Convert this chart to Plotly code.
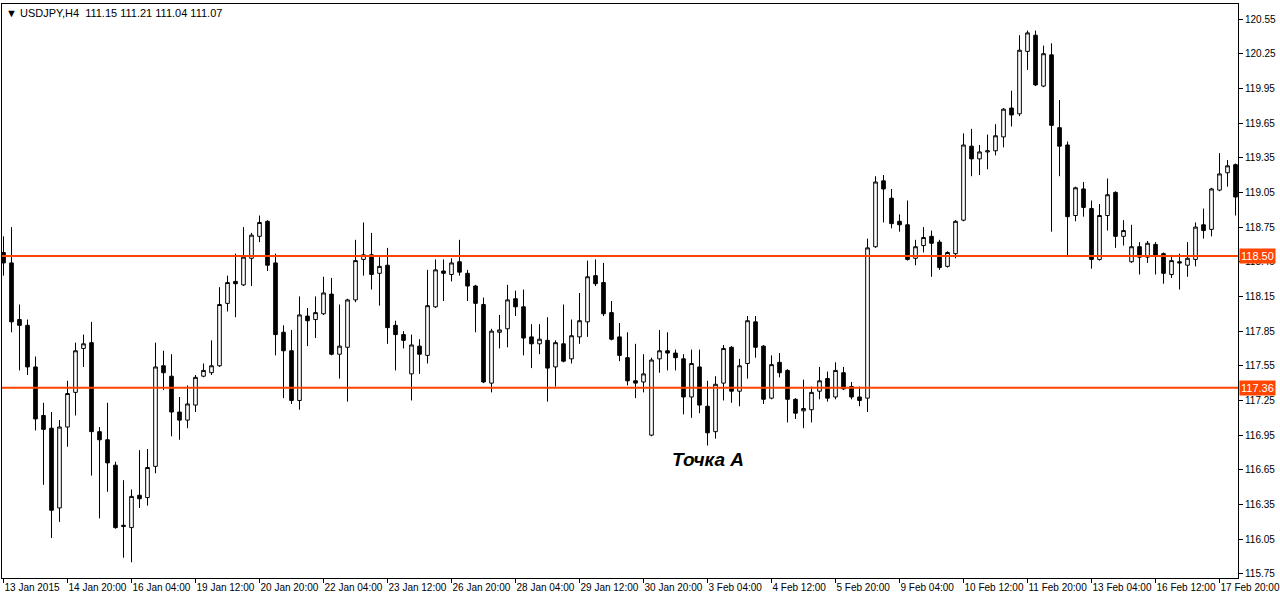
import plotly.graph_objects as go

# ---- data (USDJPY H4) ----
opens = [118.53, 118.44, 117.95, 117.90, 117.54, 117.12, 117.01, 116.32, 117.02, 117.32,
         117.70, 117.75, 116.98, 116.91, 116.69, 116.17, 116.15, 116.43, 116.41, 116.68,
         117.55, 117.46, 117.15, 117.08, 117.21, 117.46, 117.49, 117.55, 118.09, 118.28,
         118.25, 118.48, 118.67, 118.80, 118.44, 117.84, 117.68, 117.25, 117.98, 117.95,
         118.00, 118.17, 117.65, 117.71, 118.12, 118.47, 118.51, 118.35, 118.42, 117.90,
         117.82, 117.48, 117.72, 117.64, 118.06, 118.37, 118.34, 118.45, 118.35, 118.24,
         118.08, 117.40, 117.84, 117.87, 118.13, 118.06, 117.80, 117.74, 117.77, 117.54,
         117.74, 117.61, 117.80, 117.93, 118.33, 118.27, 118.01, 117.80, 117.62, 117.42,
         117.41, 116.95, 117.61, 117.68, 117.66, 117.61, 117.28, 117.54, 117.20, 116.98,
         117.40, 117.71, 117.33, 117.57, 117.93, 117.72, 117.27, 117.58, 117.51, 117.26,
         117.16, 117.17, 117.33, 117.44, 117.28, 117.49, 117.37, 117.28, 117.27, 118.58,
         119.15, 119.00, 118.80, 118.77, 118.48, 118.59, 118.67, 118.62, 118.41, 118.52,
         118.81, 119.45, 119.34, 119.40, 119.41, 119.53, 119.78, 119.73, 120.27, 120.41,
         119.97, 120.24, 119.61, 119.46, 118.85, 119.08, 118.91, 118.47, 118.85, 119.05,
         118.67, 118.45, 118.58, 118.49, 118.60, 118.52, 118.34, 118.45, 118.42, 118.47,
         118.77, 118.73, 119.07, 119.22, 119.29]
highs = [118.67, 118.75, 118.08, 117.95, 117.63, 117.23, 117.15, 117.08, 117.42, 117.75,
         117.82, 117.93, 117.02, 117.23, 116.72, 116.56, 116.48, 116.82, 116.83, 117.75,
         117.68, 117.65, 117.28, 117.38, 117.47, 117.57, 117.77, 118.23, 118.33, 118.52,
         118.75, 118.70, 118.85, 118.81, 118.52, 117.90, 117.86, 118.15, 118.05, 118.15,
         118.32, 118.31, 118.08, 118.13, 118.64, 118.79, 118.70, 118.49, 118.57, 117.94,
         117.85, 117.82, 117.78, 118.38, 118.47, 118.47, 118.48, 118.64, 118.38, 118.25,
         118.14, 117.87, 117.99, 118.25, 118.20, 118.21, 117.91, 117.91, 117.97, 117.77,
         118.08, 117.95, 118.18, 118.46, 118.47, 118.44, 118.11, 117.92, 117.84, 117.74,
         117.65, 117.62, 117.86, 117.84, 117.69, 117.65, 117.69, 117.69, 117.42, 117.46,
         117.73, 117.72, 117.61, 117.98, 117.98, 117.73, 117.64, 117.66, 117.52, 117.27,
         117.43, 117.37, 117.54, 117.50, 117.58, 117.54, 117.41, 117.37, 118.65, 119.19,
         119.20, 119.08, 118.86, 118.98, 118.64, 118.75, 118.72, 118.64, 118.54, 118.81,
         119.56, 119.60, 119.46, 119.55, 119.64, 119.78, 119.93, 120.41, 120.45, 120.45,
         120.32, 120.34, 119.85, 119.49, 119.10, 119.14, 118.98, 118.95, 119.17, 119.06,
         118.81, 118.77, 118.62, 118.63, 118.62, 118.53, 118.51, 118.52, 118.62, 118.79,
         118.91, 119.09, 119.39, 119.33, 119.30]
lows = [118.33, 117.84, 117.51, 117.47, 116.99, 116.52, 116.06, 116.20, 116.85, 117.12,
        117.54, 116.60, 116.23, 116.46, 116.14, 115.89, 115.85, 116.32, 116.34, 116.62,
        117.34, 116.94, 116.91, 117.01, 117.15, 117.45, 117.47, 117.54, 118.02, 117.97,
        118.24, 118.24, 118.62, 118.37, 117.64, 117.27, 117.22, 117.17, 117.72, 117.79,
        117.99, 117.64, 117.44, 117.24, 118.10, 118.33, 118.21, 118.07, 117.74, 117.51,
        117.70, 117.25, 117.48, 117.57, 118.05, 118.11, 118.28, 118.33, 118.11, 117.84,
        117.40, 117.32, 117.70, 117.71, 117.98, 117.64, 117.53, 117.65, 117.24, 117.37,
        117.58, 117.57, 117.74, 117.80, 118.24, 117.98, 117.77, 117.59, 117.38, 117.27,
        117.32, 116.94, 117.49, 117.51, 117.51, 117.13, 117.10, 117.14, 116.86, 116.92,
        117.25, 117.23, 117.20, 117.44, 117.62, 117.22, 117.26, 117.45, 117.06, 117.09,
        117.01, 117.06, 117.26, 117.24, 117.26, 117.34, 117.26, 117.20, 117.15, 118.57,
        118.79, 118.74, 118.71, 118.46, 118.42, 118.53, 118.32, 118.38, 118.40, 118.48,
        118.80, 119.19, 119.20, 119.25, 119.37, 119.44, 119.62, 119.71, 120.11, 119.97,
        119.96, 118.71, 119.19, 118.49, 118.80, 118.84, 118.39, 118.46, 118.72, 118.57,
        118.59, 118.44, 118.34, 118.44, 118.34, 118.26, 118.31, 118.21, 118.32, 118.41,
        118.65, 118.67, 119.06, 119.10, 118.85]
closes = [118.44, 117.93, 117.90, 117.54, 117.09, 117.00, 116.30, 117.02, 117.31, 117.68,
          117.74, 116.98, 116.91, 116.71, 116.15, 116.16, 116.42, 116.40, 116.67, 117.54,
          117.49, 117.15, 117.08, 117.22, 117.45, 117.51, 117.55, 118.08, 118.27, 118.26,
          118.49, 118.68, 118.79, 118.42, 117.82, 117.68, 117.25, 117.99, 117.94, 118.01,
          118.18, 117.65, 117.72, 118.12, 118.46, 118.51, 118.34, 118.41, 117.88, 117.82,
          117.77, 117.73, 117.65, 118.07, 118.38, 118.35, 118.44, 118.36, 118.24, 118.09,
          117.41, 117.85, 117.86, 118.12, 118.06, 117.79, 117.74, 117.78, 117.53, 117.75,
          117.59, 117.81, 117.94, 118.32, 118.26, 118.00, 117.78, 117.64, 117.42, 117.40,
          117.48, 117.60, 117.68, 117.66, 117.62, 117.28, 117.57, 117.21, 116.97, 117.39,
          117.70, 117.33, 117.55, 117.94, 117.71, 117.26, 117.56, 117.49, 117.26, 117.14,
          117.18, 117.32, 117.42, 117.27, 117.51, 117.35, 117.28, 117.25, 118.57, 119.14,
          119.08, 118.78, 118.77, 118.47, 118.58, 118.66, 118.61, 118.40, 118.53, 118.80,
          119.46, 119.34, 119.40, 119.41, 119.54, 119.77, 119.72, 120.28, 120.43, 119.98,
          120.25, 119.63, 119.45, 118.84, 119.09, 118.92, 118.47, 118.85, 119.03, 118.67,
          118.72, 118.58, 118.49, 118.61, 118.50, 118.35, 118.46, 118.44, 118.48, 118.75,
          118.72, 119.08, 119.21, 119.28, 119.01]

bar_index = list(range(len(opens)))

x_tick_bars = [0, 8, 16, 24, 32, 40, 48, 56, 64, 72, 80, 88, 96, 104, 112, 120, 128, 136, 144, 152]
x_tick_labels = ["13 Jan 2015", "14 Jan 20:00", "16 Jan 04:00", "19 Jan 12:00", "20 Jan 20:00",
                 "22 Jan 04:00", "23 Jan 12:00", "26 Jan 20:00", "28 Jan 04:00", "29 Jan 12:00",
                 "30 Jan 20:00", "3 Feb 04:00", "4 Feb 12:00", "5 Feb 20:00", "9 Feb 04:00",
                 "10 Feb 12:00", "11 Feb 20:00", "13 Feb 04:00", "16 Feb 12:00", "17 Feb 20:00"]
y_tick_values = [115.75, 116.05, 116.35, 116.65, 116.95, 117.25, 117.55, 117.85, 118.15,
                 118.45, 118.75, 119.05, 119.35, 119.65, 119.95, 120.25, 120.55]
y_tick_labels = ["%.2f" % v for v in y_tick_values]

levels = [118.50, 117.36]
level_color = "#FF4500"
header_text = "\u25BC USDJPY,H4  111.15 111.21 111.04 111.07"
note_text = "Точка А"
note_bar = 88.0
note_price = 116.735

fig = go.Figure()
fig.add_trace(go.Candlestick(
    x=bar_index, open=opens, high=highs, low=lows, close=closes,
    increasing=dict(fillcolor="white", line=dict(color="black", width=1)),
    decreasing=dict(fillcolor="black", line=dict(color="black", width=1)),
    whiskerwidth=0, showlegend=False, hoverinfo="skip",
))

for lv in levels:
    fig.add_shape(type="line", xref="paper", x0=0, x1=1, yref="y", y0=lv, y1=lv,
                  line=dict(color=level_color, width=2), layer="above")
    fig.add_annotation(xref="paper", x=1, yref="y", y=lv, text="%.2f" % lv,
                       showarrow=False, xanchor="left", yanchor="middle", xshift=1,
                       bgcolor=level_color, borderpad=1,
                       font=dict(family="Liberation Sans", size=11, color="white"))

fig.add_annotation(xref="paper", x=0, yref="paper", y=1, text=header_text, showarrow=False,
                   xanchor="left", yanchor="top", xshift=2, yshift=-1,
                   font=dict(family="Liberation Sans", size=11, color="black"))
fig.add_annotation(xref="x", x=note_bar, yref="y", y=note_price, text=note_text, showarrow=False,
                   xanchor="center", yanchor="middle",
                   font=dict(family="Liberation Sans", size=19, color="black",
                             weight="bold", style="italic"))

fig.update_layout(
    width=1280, height=600,
    margin=dict(l=2, r=42, t=4, b=22, autoexpand=False),
    paper_bgcolor="white", plot_bgcolor="white",
    boxgap=0.35,
    xaxis=dict(range=[-0.1875, 154.31], rangeslider=dict(visible=False),
               showgrid=False, zeroline=False, showline=True, linecolor="black", linewidth=1,
               mirror=True, ticks="outside", ticklen=4, tickcolor="black",
               tickvals=x_tick_bars, ticktext=x_tick_labels, tickangle=0,
               ticklabelposition="outside right", automargin=False,
               tickfont=dict(family="Liberation Sans", size=10, color="black")),
    yaxis=dict(range=[115.714, 120.68], side="right", showgrid=False, zeroline=False,
               showline=True, linecolor="black", linewidth=1, mirror=True,
               ticks="outside", ticklen=4, tickcolor="black", automargin=False,
               tickvals=y_tick_values, ticktext=y_tick_labels,
               tickfont=dict(family="Liberation Sans", size=10, color="black")),
)

fig.write_html("out.html", config={"displayModeBar": False},
               post_script="document.body.style.margin='0';")
